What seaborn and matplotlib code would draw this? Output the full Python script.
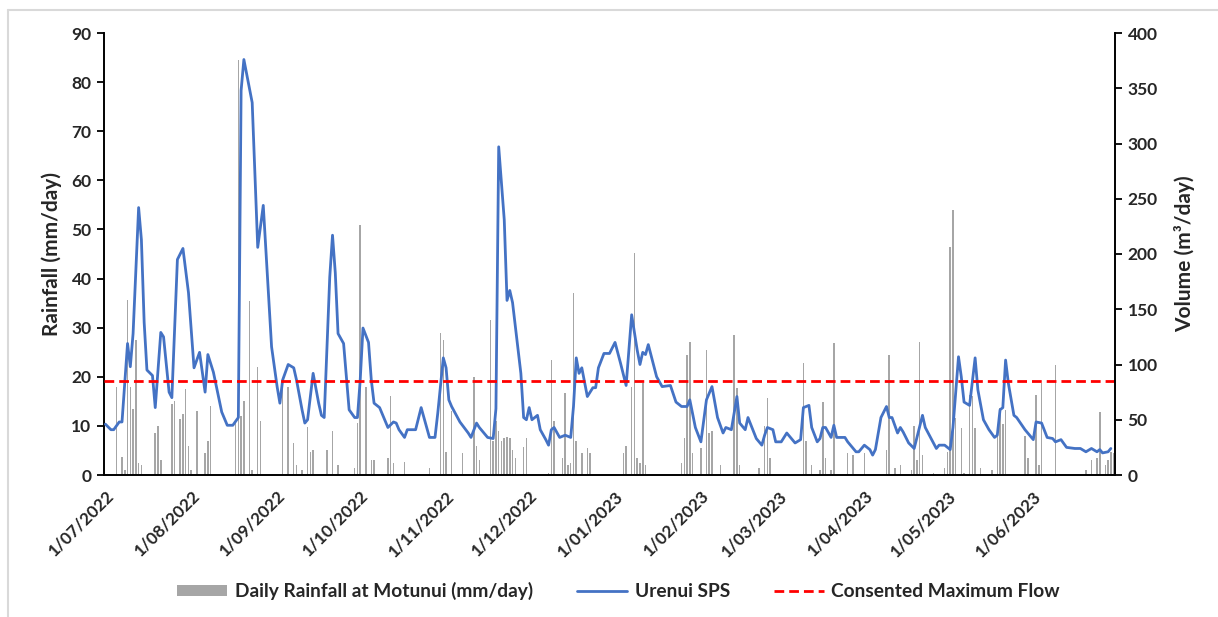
import numpy as np
import pandas as pd
import matplotlib
matplotlib.use("Agg")
import matplotlib.pyplot as plt
from matplotlib.lines import Line2D
from matplotlib.patches import Patch
import seaborn as sns

# ── data (day offsets from 1 July 2022) ─────────────────────────────────
START = pd.Timestamp("2022-07-01")

FLOW_DAY = [0, 2, 3, 5, 6, 8, 9, 10, 12, 13, 14, 15, 17, 18, 20, 21, 23, 24, 26, 28,
            30, 32, 34, 36, 37, 39, 42, 44, 46, 48, 49, 50, 53, 55, 57, 59, 60, 62, 63, 64,
            66, 68, 69, 71, 72, 73, 75, 77, 78, 79, 81, 82, 83, 84, 86, 88, 90, 91, 92, 93,
            95, 96, 97, 99, 102, 104, 105, 106, 108, 109, 112, 114, 116, 117, 119, 120, 122, 123, 124, 125,
            128, 131, 132, 134, 135, 138, 140, 141, 142, 144, 145, 146, 147, 150, 151, 152, 153, 154, 156, 157,
            159, 160, 161, 162, 164, 166, 168, 169, 170, 171, 172, 174, 176, 177, 178, 180, 182, 184, 186, 188,
            190, 192, 193, 194, 195, 196, 199, 201, 204, 206, 208, 210, 211, 213, 215, 217, 219, 221, 223, 224,
            226, 228, 229, 231, 232, 235, 237, 238, 239, 241, 242, 244, 246, 249, 251, 252, 254, 255, 257, 258,
            259, 260, 262, 263, 264, 267, 268, 271, 272, 274, 276, 277, 278, 280, 282, 283, 284, 286, 287, 288,
            290, 292, 295, 296, 300, 301, 303, 305, 306, 308, 309, 310, 312, 314, 315, 317, 319, 321, 322, 323,
            324, 325, 326, 328, 329, 332, 335, 336, 338, 340, 342, 343, 345, 347, 350, 352, 354, 356, 358, 359,
            360, 362, 363]
FLOW_M3 = [46, 41, 41, 48, 48, 119, 98, 128, 242, 213, 138, 95, 90, 61, 129, 125, 75, 70, 195, 205,
           165, 97, 111, 75, 109, 93, 57, 45, 45, 52, 348, 376, 337, 206, 244, 158, 116, 80, 65, 86,
           100, 97, 86, 59, 47, 50, 92, 65, 54, 52, 179, 217, 183, 128, 119, 59, 52, 52, 86, 133,
           120, 86, 65, 61, 43, 48, 47, 41, 34, 41, 41, 61, 43, 34, 34, 56, 106, 97, 68, 62,
           48, 38, 34, 47, 43, 34, 33, 60, 297, 231, 158, 167, 156, 92, 52, 50, 61, 50, 54, 41,
           32, 27, 41, 43, 34, 36, 34, 62, 106, 92, 97, 71, 79, 79, 97, 110, 110, 120, 101, 81,
           145, 113, 100, 111, 109, 118, 89, 80, 81, 66, 62, 62, 68, 43, 30, 68, 80, 52, 38, 43,
           41, 71, 47, 41, 52, 33, 27, 36, 43, 41, 30, 30, 38, 29, 32, 61, 63, 43, 30, 33,
           43, 43, 34, 45, 34, 34, 30, 21, 21, 27, 23, 18, 23, 52, 62, 52, 52, 38, 43, 39,
           29, 24, 54, 43, 24, 27, 27, 23, 43, 107, 89, 66, 63, 106, 77, 50, 41, 34, 36, 59,
           61, 104, 83, 54, 52, 41, 32, 48, 47, 34, 33, 30, 32, 25, 24, 24, 21, 24, 21, 23,
           20, 21, 24]

RAIN_DAY = [4, 6, 7, 8, 9, 10, 11, 12, 13, 18, 19, 20, 24, 25, 27, 28, 29, 30, 31, 33,
            36, 37, 38, 47, 48, 49, 50, 52, 53, 55, 56, 64, 66, 68, 69, 71, 73, 74, 75, 80,
            82, 84, 90, 91, 92, 94, 96, 97, 102, 103, 104, 108, 117, 121, 122, 123, 125, 129, 133, 134,
            135, 139, 140, 141, 142, 143, 144, 145, 146, 147, 148, 151, 152, 160, 161, 162, 165, 166, 167, 168,
            169, 170, 172, 174, 175, 187, 188, 190, 191, 192, 193, 194, 195, 208, 209, 210, 211, 212, 215, 217,
            218, 219, 222, 227, 228, 229, 236, 238, 239, 240, 252, 253, 255, 258, 259, 260, 262, 263, 268, 270,
            274, 282, 283, 285, 287, 291, 292, 293, 294, 295, 299, 303, 304, 305, 306, 307, 309, 310, 312, 313,
            314, 316, 320, 322, 323, 324, 325, 332, 333, 336, 337, 338, 343, 354, 356, 358, 359, 361, 362, 363,
            364]
RAIN_MM = [18, 3.7, 1, 35.6, 18, 13.5, 27.5, 2.5, 2, 8.5, 10, 3, 14.5, 15, 11.5, 12.5, 17.5, 6, 1, 13,
           4.5, 7, 14, 10.5, 84.5, 12, 15, 35.5, 1, 22, 11, 18, 18, 6.5, 2, 1, 9.8, 4.7, 5, 5,
           9, 2, 1.5, 10.6, 51, 18, 3, 3, 3.5, 16, 2.5, 2.7, 1.5, 29, 27.5, 4.7, 13, 4.5, 20, 6,
           3, 31.6, 7, 11, 9, 7, 7.5, 7.8, 7.5, 5, 3.5, 5.7, 7.5, 0.5, 23.4, 11, 3.5, 16.7, 2, 2.5,
           37, 7, 4.5, 5.5, 4.5, 4.5, 6, 18, 45.2, 3.5, 2.5, 18.7, 2, 2.5, 7.5, 24.4, 27, 4.5, 5.5, 25.5,
           8.5, 9, 2, 28.5, 17.7, 2, 1.5, 10, 15.7, 3.5, 22.8, 7, 2, 1, 14.9, 3.5, 1, 26.9, 4.5, 4,
           4.5, 5, 24.4, 1.5, 2, 1, 10, 3, 27, 4, 0.5, 1.5, 4.7, 46.5, 54, 11.6, 9.6, 0.5, 16.3, 16,
           9.6, 1.5, 1, 8.5, 13.6, 10.4, 13.2, 8, 3.5, 16.3, 2, 18.7, 22.4, 1, 3, 3.5, 12.8, 2, 3, 4.7,
           4.5]

CONSENT_MAX = 85  # m3/day

TICK_MONTHS = pd.date_range("2022-07-01", "2023-06-01", freq="MS")

RAIN_COLOR = "#a6a6a6"
FLOW_COLOR = "#4472c4"
LIMIT_COLOR = "#ff0000"

sns.set_theme(style="white")
plt.rcParams["font.family"] = ["Lato", "DejaVu Sans"]
plt.rcParams["font.weight"] = "bold"

rain = pd.DataFrame({"date": START + pd.to_timedelta(RAIN_DAY, unit="D"), "mm": RAIN_MM})
flow = pd.DataFrame({"date": START + pd.to_timedelta(FLOW_DAY, unit="D"), "m3": FLOW_M3})

fig = plt.figure(figsize=(12.18, 6.17), dpi=100)
ax = fig.add_axes([104 / 1218, 1 - 475 / 617, (1115 - 104) / 1218, (475 - 33) / 617])
ax2 = ax.twinx()

ax.bar(rain["date"], rain["mm"], width=0.55, color=RAIN_COLOR, linewidth=0)
sns.lineplot(data=flow, x="date", y="m3", ax=ax2, color=FLOW_COLOR, linewidth=2.0)
ax2.axhline(CONSENT_MAX, color=LIMIT_COLOR, linewidth=2.0, linestyle=(0, (3.5, 1.8)))

ax.set_xlim(START - pd.Timedelta(hours=12), START + pd.Timedelta(days=364, hours=12))
ax.set_ylim(0, 90)
ax2.set_ylim(0, 400)
ax.set_yticks(np.arange(0, 91, 10))
ax2.set_yticks(np.arange(0, 401, 50))
ax.set_xticks(TICK_MONTHS)
ax.set_xticklabels([f"{d.day}/{d.month:02d}/{d.year}" for d in TICK_MONTHS],
                   rotation=45, ha="right", rotation_mode="anchor", fontsize=12.3)

for a in (ax, ax2):
    a.spines["top"].set_visible(False)
    for s in a.spines.values():
        s.set_color("black")
        s.set_linewidth(1.4)
ax.spines["right"].set_visible(False)
ax2.spines["left"].set_visible(False)
ax2.spines["bottom"].set_visible(False)

ax.tick_params(axis="y", left=True, direction="out", length=5, width=1.3, color="black",
               labelsize=12.5, pad=4)
ax.tick_params(axis="x", bottom=False, length=0, pad=9)
ax2.tick_params(axis="y", right=True, direction="out", length=5, width=1.3, color="black",
                labelsize=12.5, pad=4)

ax.set_xlabel("")
ax2.set_xlabel("")
ax.set_ylabel("Rainfall (mm/day)", fontsize=15, fontweight="bold", labelpad=7)
ax2.set_ylabel("Volume (m\u00b3/day)", fontsize=15, fontweight="bold", labelpad=12)

# light frame around the chart area
fig.add_artist(Line2D([8 / 1218, 1], [1 - 10 / 617] * 2, color="#d9d9d9", lw=1.5))
fig.add_artist(Line2D([8 / 1218] * 2, [0, 1 - 10 / 617], color="#d9d9d9", lw=1.5))

handles = [
    Patch(facecolor=RAIN_COLOR, edgecolor="none", label="Daily Rainfall at Motunui (mm/day)"),
    Line2D([], [], color=FLOW_COLOR, lw=2.0, label="Urenui SPS"),
    Line2D([], [], color=LIMIT_COLOR, lw=2.0, linestyle=(0, (3.5, 1.8)), label="Consented Maximum Flow"),
]
fig.legend(handles=handles, loc="center", bbox_to_anchor=(0.508, 0.042), ncol=3, frameon=False,
           fontsize=13.8, handlelength=2.6, handleheight=0.55, columnspacing=2.3, handletextpad=0.4)

fig.savefig("out.png", dpi=100)
